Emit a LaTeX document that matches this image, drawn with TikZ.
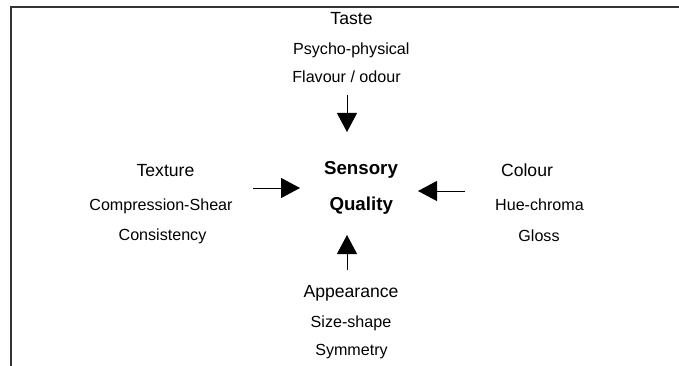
\documentclass[tikz,border=0pt]{standalone}
\usepackage{fontspec}
\setmainfont{Liberation Sans}
\usetikzlibrary{arrows.meta}
\tikzset{
  head/.style={anchor=base, inner sep=0pt, font=\fontsize{17.6}{20}\selectfont},
  sub/.style={anchor=base, inner sep=0pt, font=\fontsize{16.1}{19}\selectfont},
  core/.style={anchor=base, inner sep=0pt, font=\fontsize{18.7}{22}\selectfont\bfseries},
  arr/.style={line width=1pt, -{Triangle[length=19pt,width=20pt]}},
  frame/.style={line width=1.3pt, draw=black!80}
}
\begin{document}
\begin{tikzpicture}[x=1pt, y=-1pt]
\useasboundingbox (0,0) rectangle (679,366);
% frame
\coordinate (fr1) at (679,7);
\coordinate (fr2) at (11,7);
\coordinate (fr3) at (11,366);
\draw[frame] (fr1) -- (fr2) -- (fr3);
% top
\node[head] (taste) at (351.5,25) {Taste};
\node[sub] (psy) at (351.3,55) {Psycho-physical};
\node[sub] (flav) at (346.5,83) {Flavour / odour};
% centre
\node[core] (sens) at (361,174.3) {Sensory};
\node[core] (qual) at (361.2,210) {Quality};
% left
\node[head] (tex) at (165.5,176) {Texture};
\node[sub] (comp) at (161,210) {Compression-Shear};
\node[sub] (cons) at (162.5,240.7) {Consistency};
% right
\node[head] (col) at (527,176) {Colour};
\node[sub] (hue) at (539.5,210) {Hue-chroma};
\node[sub] (glo) at (539,241) {Gloss};
% bottom
\node[head] (app) at (351,297) {Appearance};
\node[sub] (size) at (351,327) {Size-shape};
\node[sub] (sym) at (351.5,355) {Symmetry};
% arrows
\coordinate (dA) at (347,95);  \coordinate (dB) at (347,132);
\coordinate (uA) at (347,270); \coordinate (uB) at (347,235);
\coordinate (rA) at (253,188); \coordinate (rB) at (300,188);
\coordinate (lA) at (465,191); \coordinate (lB) at (418,191);
\draw[arr] (dA) -- (dB);
\draw[arr] (uA) -- (uB);
\draw[arr] (rA) -- (rB);
\draw[arr] (lA) -- (lB);
\end{tikzpicture}
\end{document}
